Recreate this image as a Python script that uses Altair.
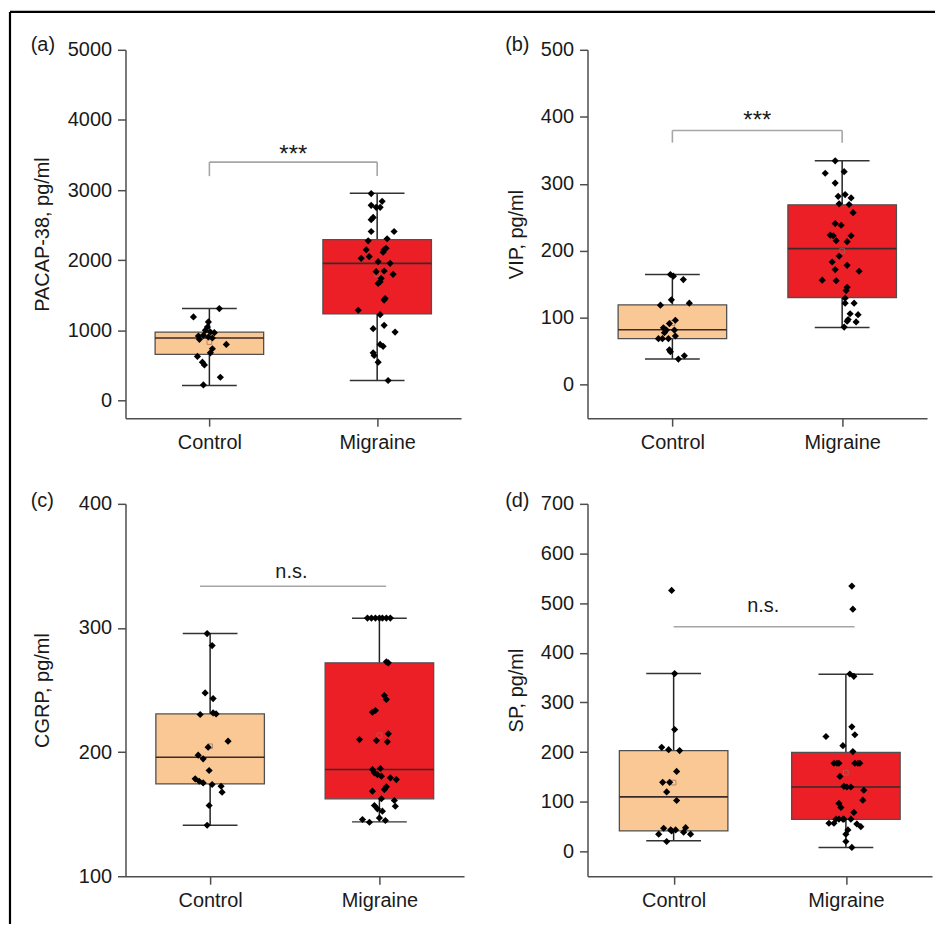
import altair as alt
import pandas as pd

FONT = "Liberation Sans"
GROUPS = ["Control", "Migraine"]
GROUP_POS = [1, 3]
FILLS = ["#F9C894", "#EC1F26"]

# ---------------- (a) PACAP-38 ----------------
a_title = "PACAP-38, pg/ml"
a_ctrl = [1312, 1193, 1122, 1050, 1003, 978, 969, 921, 931, 907, 893, 874, 802, 740, 682, 630, 549, 510, 334, 224]
a_ctrl_jit = [10, -16, -1, -2, -4, 1, 5, -11, -6, -1, 3, -10, 17, 3, 1, -12, -7, -5, 11, -6]
a_mig = [2951, 2841, 2784, 2755, 2755, 2612, 2579, 2411, 2411, 2278, 2307, 2149, 2149, 2172, 2115, 2029, 2053,
         1981, 1957, 1838, 1848, 1800, 1742, 1695, 1671, 1456, 1433, 1289, 1226, 1026, 1074, 978, 802, 774, 682,
         645, 549, 287]
a_mig_jit = [-6, 5, -6, -1, 3, -4, -6, -6, 17, -9, 10, -11, 7, 9, 6, -16, -8, 1, 13, -1, 7, 16, 4, 3, 1, 8, 7,
             -19, 3, -4, 7, 18, 3, 6, -4, -3, 1, 11]
a_low = [215, 286]
a_q1 = [659, 1236]
a_med = [892, 1957]
a_q3 = [978, 2296]
a_high = [1312, 2955]
a_mean = [835, 1800]
a_ticks = [0, 1000, 2000, 3000, 4000, 5000]

# ---------------- (b) VIP ----------------
b_title = "VIP, pg/ml"
b_ctrl = [164.5, 162, 157, 126.7, 118.8, 121.8, 96.3, 91.3, 85, 81.6, 81.6, 77.6, 72.7, 68.8, 68.8, 68.8, 52.1,
          49.2, 43.3, 38.3]
b_ctrl_jit = [-2, 1, 11, -1, -12, 17, 3, -3, -9, -6, 2, -8, 3, -14, -10, -4, -3, -2, 12, 6]
b_mig = [334.3, 315.7, 318.1, 301, 281.3, 283.8, 278.9, 270, 269, 256.8, 240.6, 238.1, 223.4, 222.4, 222.4, 215,
         213.5, 192, 183.2, 178.2, 171.9, 169.4, 156.1, 155.2, 145.4, 140.5, 129.2, 121.8, 121.8, 106, 104.6,
         97.2, 93.8, 94.8, 86]
b_mig_jit = [-7, -17, 2, -7, -4, 3, 9, -3, 7, 11, -7, -1, -12, -9, 9, -6, 5, -3, -10, 5, -7, 17, -20, -6, 5, 4,
             3, 3, 12, 8, 16, 6, 14, 5, 2]
b_low = [38.3, 85.4]
b_q1 = [68.8, 130.2]
b_med = [82, 203.2]
b_q3 = [119.3, 268.6]
b_high = [164.5, 334.3]
b_mean = [92, 200]
b_ticks = [0, 100, 200, 300, 400, 500]

# ---------------- (c) CGRP ----------------
c_title = "CGRP, pg/ml"
c_ctrl = [295.5, 285.8, 247.7, 243.1, 230.3, 231.6, 230.8, 208.8, 204, 197.5, 194.6, 185.2, 178.5, 176.5, 175.2,
          173.9, 172.5, 167.7, 157, 141.1]
c_ctrl_jit = [-3, 2, -5, 3, -10, 3, 6, 18, -2, -12, -7, -1, -15, -11, -7, 2, 11, 12, -1, -3]
c_mig = [308, 308, 308, 308, 308, 308, 308, 272.7, 271.9, 245.6, 242.4, 232.1, 233.5, 210.1, 209.3, 214.7,
         208.3, 186, 186.8, 183.3, 181.9, 180.6, 179.3, 177.9, 172, 169.8, 168.5, 162.4, 161, 156.4, 157, 154.3,
         152.4, 147, 145.7, 143.5, 144.9]
c_mig_jit = [-12, -8, -4, 0, 3, 7, 11, 7, 9, 5, 7, -7, -4, -20, -3, 9, 8, -7, 1, -5, -2, 2, 11, 17, 7, 5, -7, 2,
             15, 16, -5, -2, 3, 0, -17, -10, 6]
c_low = [141.1, 143.8]
c_q1 = [174.4, 162.4]
c_med = [195.9, 186]
c_q3 = [230.8, 271.9]
c_high = [295.5, 307.9]
c_mean = [204.7, 213.6]
c_ticks = [100, 200, 300, 400]

# ---------------- (d) SP ----------------
d_title = "SP, pg/ml"
d_ctrl = [525.7, 358.1, 245.5, 209.6, 205, 203, 161.1, 139.1, 139.1, 119.8, 102.6, 46.7, 43.3, 41.3, 43.3, 47.9,
          34.7, 38.7, 34.7, 20]
d_ctrl_jit = [-2, 1, 1, -12, -5, 6, 3, -11, -4, -7, 3, -10, -3, -2, 2, 12, -15, 10, 17, -7]
d_mig = [534.3, 487.8, 357.3, 352.7, 250.9, 231.5, 234.9, 212.9, 201, 177.6, 177.6, 177.6, 177.6, 177.6, 177.6,
         151.1, 131.1, 129.7, 129.7, 123.2, 103.2, 96.6, 88.6, 78.6, 65, 65, 65, 65, 65, 56.7, 56.7, 55.3, 49.9,
         43.3, 34.7, 20, 8]
d_mig_jit = [6, 7, 4, 8, 6, -20, 9, -3, 7, -12, -9, -7, 9, 12, 14, -6, -2, 1, 5, 18, 17, -7, -5, 8, -2, -3, -7,
             -10, 5, -17, -12, 11, 15, 2, 0, 0, 6]
d_low = [21.4, 8]
d_q1 = [41.3, 64.7]
d_med = [109.8, 129.7]
d_q3 = [203, 199.6]
d_high = [358.1, 356.7]
d_mean = [138.5, 158.5]
d_ticks = [0, 100, 200, 300, 400, 500, 600, 700]

TXT = "#1a1a1a"
AXC = "#4d4d4d"
FS = 20


def panel(label, title, dom, ticks, W, H, low, q1, med, q3, high, mean, ctrl, cj, mig, mj,
          sig, title_x, label_xy, border=False):
    upx = 4.0 / W
    box_half = 54.5 * upx
    cap_half = 27.5 * upx

    stats = pd.DataFrame({"group": GROUPS, "pos": GROUP_POS, "low": low, "q1": q1, "med": med,
                          "q3": q3, "high": high, "mean": mean})
    stats["xl"] = stats["pos"] - box_half
    stats["xr"] = stats["pos"] + box_half
    stats["cl"] = stats["pos"] - cap_half
    stats["cr"] = stats["pos"] + cap_half

    pts = pd.DataFrame({
        "group": ["Control"] * len(ctrl) + ["Migraine"] * len(mig),
        "value": list(ctrl) + list(mig),
        "jit": list(cj) + list(mj),
    })
    pts["x"] = pts["group"].map({"Control": 1, "Migraine": 3}) + pts["jit"] * upx

    xs = alt.Scale(domain=[0, 4], nice=False, zero=False)
    ys = alt.Scale(domain=dom, nice=False, zero=False)
    xax = alt.Axis(values=[1, 3], labelExpr="datum.value == 1 ? 'Control' : 'Migraine'", title="",
                   grid=False, tickSize=8, tickColor=AXC, tickWidth=1.5, domainColor=AXC, domainWidth=1.5,
                   labelFont=FONT, labelFontSize=FS, labelColor=TXT, labelPadding=6, labelFlush=False)
    yax = alt.Axis(values=ticks, title=title, titleX=title_x, titleY=H / 2, titleAngle=-90,
                   titleAlign="center", titleBaseline="middle", titleFont=FONT, titleFontSize=FS,
                   titleFontWeight="normal", titleColor=TXT, labelFont=FONT, labelFontSize=FS,
                   labelColor=TXT, labelPadding=6, tickSize=8, tickColor=AXC, tickWidth=1.5,
                   domainColor=AXC, domainWidth=1.5, grid=False, format="d")

    def X(f):
        return alt.X(f"{f}:Q", scale=xs, axis=xax)

    def Y(f):
        return alt.Y(f"{f}:Q", scale=ys, axis=yax)

    base = alt.Chart(stats)
    whisk = base.mark_rule(color="#222222", strokeWidth=1.5).encode(x=X("pos"), y=Y("low"), y2="high:Q")
    cap_lo = base.mark_rule(color="#333333", strokeWidth=1.5).encode(x=X("cl"), x2="cr:Q", y=Y("low"))
    cap_hi = base.mark_rule(color="#333333", strokeWidth=1.5).encode(x=X("cl"), x2="cr:Q", y=Y("high"))
    box = base.mark_rect(stroke="#505050", strokeWidth=1.3).encode(
        x=X("xl"), x2="xr:Q", y=Y("q1"), y2="q3:Q",
        fill=alt.Fill("group:N", scale=alt.Scale(domain=GROUPS, range=FILLS), legend=None))
    medl = base.mark_rule(color="#3a2a2a", strokeWidth=1.6).encode(x=X("xl"), x2="xr:Q", y=Y("med"))
    meanm = base.mark_point(shape="square", filled=False, size=22, color="#9a6b60", strokeWidth=1).encode(
        x=X("pos"), y=Y("mean"))
    dots = alt.Chart(pts).mark_point(shape="diamond", filled=True, size=52, color="#000000", opacity=1).encode(
        x=X("x"), y=Y("value"))

    sig_df = pd.DataFrame({"x": sig["x"], "x2": sig["x2"], "y": sig["y"], "y2": sig["y2"]})
    sig_lines = alt.Chart(sig_df).mark_rule(color="#a6a6a6", strokeWidth=1.6).encode(
        x=X("x"), x2="x2:Q", y=Y("y"), y2="y2:Q")
    sig_txt = alt.Chart(pd.DataFrame({"tx": [sig["tx"]], "ty": [sig["ty"]], "t": [sig["text"]]})).mark_text(
        font=FONT, fontSize=sig["fs"], color=TXT, baseline="alphabetic", align="center", dy=sig["dy"]).encode(
        x=X("tx"), y=Y("ty"), text="t:N")

    lab = alt.Chart(pd.DataFrame({"t": [label]})).mark_text(
        font=FONT, fontSize=FS, color=TXT, align="center", baseline="middle").encode(
        x=alt.value(label_xy[0]), y=alt.value(label_xy[1]), text="t:N")

    layers = [whisk, cap_lo, cap_hi, box, medl, meanm, dots, sig_lines, sig_txt, lab]
    if border:
        one = alt.Chart(pd.DataFrame({"k": [0]}))
        top = one.mark_rule(color="#000000", strokeWidth=2.2).encode(
            x=alt.value(-116), x2=alt.value(813), y=alt.value(-38))
        left = one.mark_rule(color="#000000", strokeWidth=2.2).encode(
            x=alt.value(-116), y=alt.value(-38), y2=alt.value(878))
        layers += [top, left]
    return alt.layer(*layers).properties(width=W, height=H)


pa = panel("(a)", a_title, [-250, 5000], a_ticks, 337, 370, a_low, a_q1, a_med, a_q3, a_high, a_mean,
           a_ctrl, a_ctrl_jit, a_mig, a_mig_jit,
           {"x": [1, 1, 3], "x2": [3, 1, 3], "y": [3400, 3200, 3200], "y2": [3400, 3400, 3400],
            "tx": 2, "ty": 3400, "text": "***", "fs": 24, "dy": 0},
           -83, (-83, -5), border=True)
pb = panel("(b)", b_title, [-50, 500], b_ticks, 341, 370, b_low, b_q1, b_med, b_q3, b_high, b_mean,
           b_ctrl, b_ctrl_jit, b_mig, b_mig_jit,
           {"x": [1, 1, 3], "x2": [3, 1, 3], "y": [379.5, 361.4, 361.4], "y2": [379.5, 379.5, 379.5],
            "tx": 2, "ty": 379.5, "text": "***", "fs": 24, "dy": -3},
           -71, (-70.5, -5))
pc = panel("(c)", c_title, [100, 400], c_ticks, 340, 374, c_low, c_q1, c_med, c_q3, c_high, c_mean,
           c_ctrl, c_ctrl_jit, c_mig, c_mig_jit,
           {"x": [0.88], "x2": [3.08], "y": [333.6], "y2": [333.6],
            "tx": 1.96, "ty": 340.4, "text": "n.s.", "fs": FS, "dy": 0},
           -83, (-83.5, -3))
pd_ = panel("(d)", d_title, [-50, 700], d_ticks, 346, 374, d_low, d_q1, d_med, d_q3, d_high, d_mean,
            d_ctrl, d_ctrl_jit, d_mig, d_mig_jit,
            {"x": [1.0], "x2": [3.1], "y": [452.5], "y2": [452.5],
             "tx": 2.04, "ty": 482.4, "text": "n.s.", "fs": FS, "dy": 0},
            -71, (-70.5, -3))

chart = alt.concat(pa, pb, pc, pd_, columns=2, spacing={"row": 86, "column": 124}, bounds="flush").properties(
    padding=0, background="white"
).configure_view(strokeWidth=0)

chart.save("out.html", embed_options={"renderer": "svg", "actions": False})
